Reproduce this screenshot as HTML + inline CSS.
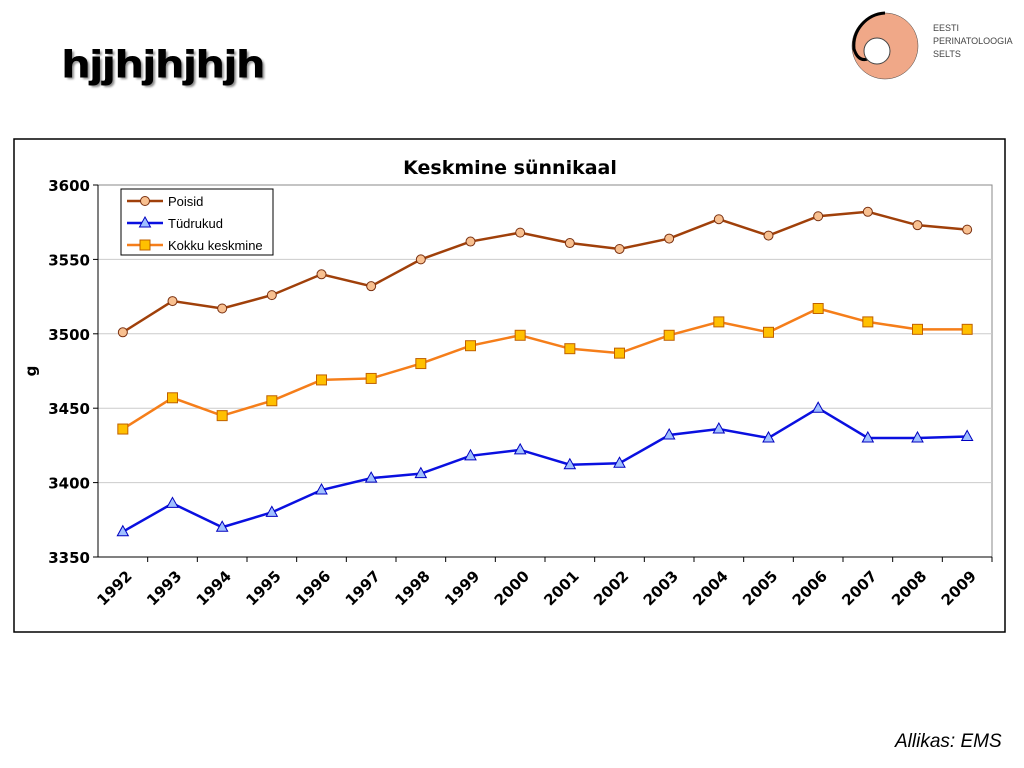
<!DOCTYPE html>
<html><head><meta charset="utf-8"><style>
body{margin:0;width:1024px;height:768px;background:#fff;font-family:"Liberation Sans",sans-serif;position:relative;overflow:hidden}
</style></head><body>
<div style="position:absolute;left:62px;top:44px;font-size:38px;font-weight:bold;color:#000;text-shadow:2px 2px 2px #888;transform:scaleX(1.2);transform-origin:0 0;-webkit-text-stroke:1px #000">hjjhjhjhjh</div>
<svg style="position:absolute;left:840px;top:4px" width="180" height="84">
<circle cx="45" cy="42" r="33" fill="#f0a888" stroke="#444" stroke-width="0.5"/>
<path d="M45 9 A33 33 0 0 0 14 45 Q18 58 28 55" fill="none" stroke="#000" stroke-width="3"/>
<circle cx="37" cy="47" r="13" fill="#fff" stroke="#444"/>
<text x="93" y="27" font-size="9" fill="#444">EESTI</text>
<text x="93" y="40" font-size="9" fill="#444">PERINATOLOOGIA</text>
<text x="93" y="53" font-size="9" fill="#444">SELTS</text>
</svg>
<svg id="chart" style="position:absolute;left:0;top:0" width="1024" height="768"></svg>
<div style="position:absolute;left:895px;top:731px;font-size:19px;font-style:italic">Allikas: EMS</div>
<script>
const years=["1992","1993","1994","1995","1996","1997","1998","1999","2000","2001","2002","2003","2004","2005","2006","2007","2008","2009"];
const poisid=[3501,3522,3517,3526,3540,3532,3550,3562,3568,3561,3557,3564,3577,3566,3579,3582,3573,3570];
const tudrukud=[3367,3386,3370,3380,3395,3403,3406,3418,3422,3412,3413,3432,3436,3430,3450,3430,3430,3431];
const kokku=[3436,3457,3445,3455,3469,3470,3480,3492,3499,3490,3487,3499,3508,3501,3517,3508,3503,3503];
const yTicks=[3350,3400,3450,3500,3550,3600];
const NS="http://www.w3.org/2000/svg";
const svg=document.getElementById('chart');
const L=98,R=992,T=185,B=557,yMin=3350,yMax=3600;
const xs=i=>L+(R-L)/years.length*(i+0.5);
const ys=v=>B-(v-yMin)/(yMax-yMin)*(B-T);
function mk(tag,a,parent){const e=document.createElementNS(NS,tag);for(const k in a)e.setAttribute(k,a[k]);(parent||svg).appendChild(e);return e;}
let e=mk('rect',{x:14,y:139,width:991,height:493,fill:'#fff',stroke:'#000','stroke-width':1.5});

e=mk('rect',{x:L,y:T,width:R-L,height:B-T,fill:'#fff',stroke:'#888'});

e=mk('text',{x:510,y:174,'text-anchor':'middle','font-size':19,'font-weight':'bold','font-family':'DejaVu Sans, sans-serif'});e.textContent='Keskmine sünnikaal';

yTicks.forEach(v=>{const y=ys(v);
 if(v>yMin&&v<yMax){const g=mk('line',{x1:L,x2:R,y1:y,y2:y,stroke:'#ccc'});}
 mk('line',{x1:L-5,x2:L,y1:y,y2:y,stroke:'#000'});
 const t=mk('text',{x:L-8,y:y+6,'text-anchor':'end','font-size':15,'font-weight':'bold','font-family':'DejaVu Sans, sans-serif'});t.textContent=v;
 });
mk('line',{x1:L,x2:L,y1:T,y2:B,stroke:'#000'});mk('line',{x1:L,x2:R,y1:B,y2:B,stroke:'#000'});
e=mk('text',{x:36,y:371,'text-anchor':'middle','font-size':15,'font-weight':'bold',transform:'rotate(-90 36 371)','font-family':'DejaVu Sans, sans-serif'});e.textContent='g';

years.forEach((y,i)=>{const x=xs(i);
 mk('line',{x1:L+(R-L)/years.length*(i+1),x2:L+(R-L)/years.length*(i+1),y1:B,y2:B+5,stroke:'#000'});
 const t=mk('text',{x:x+10,y:B+20,'text-anchor':'end','font-size':15,'font-weight':'bold',transform:`rotate(-45 ${x+10} ${B+20})`,'font-family':'DejaVu Sans, sans-serif'});t.textContent=y;
 });
function marker(kind,x,y,fill,stroke,parent){
 if(kind==='c')return mk('circle',{cx:x,cy:y,r:4.5,fill,stroke},parent);
 if(kind==='t')return mk('polygon',{points:`${x},${y-6} ${x+5.5},${y+4} ${x-5.5},${y+4}`,fill,stroke},parent);
 return mk('rect',{x:x-5,y:y-5,width:10,height:10,fill,stroke},parent);}
const series=[[poisid,'#a0400a','c','#f8c090','#7a3010','poisid'],[tudrukud,'#0a10e0','t','#a0c0ff','#0000c0','tudrukud'],[kokku,'#f57e1a','s','#ffc000','#c06000','kokku']];
series.forEach(([d,c,k,f,s,n])=>{
 const g=mk('g',{});
 mk('polyline',{points:d.map((v,i)=>xs(i)+','+ys(v)).join(' '),fill:'none',stroke:c,'stroke-width':2.5},g);
 d.forEach((v,i)=>{const m=marker(k,xs(i),ys(v),f,s,g);});});
const lg=mk('g',{});
mk('rect',{x:121,y:189,width:152,height:66,fill:'#fff',stroke:'#000'},lg);
[['Poisid',0],['Tüdrukud',1],['Kokku keskmine',2]].forEach(([lab,i])=>{const y=201+i*22;const s=series[i];
 const g=mk('g',{},lg);
 mk('line',{x1:127,x2:163,y1:y,y2:y,stroke:s[1],'stroke-width':2.5},g);marker(s[2],145,y,s[3],s[4],g);
 const t=mk('text',{x:168,y:y+5,'font-size':13},g);t.textContent=lab;});
</script>
</body></html>
